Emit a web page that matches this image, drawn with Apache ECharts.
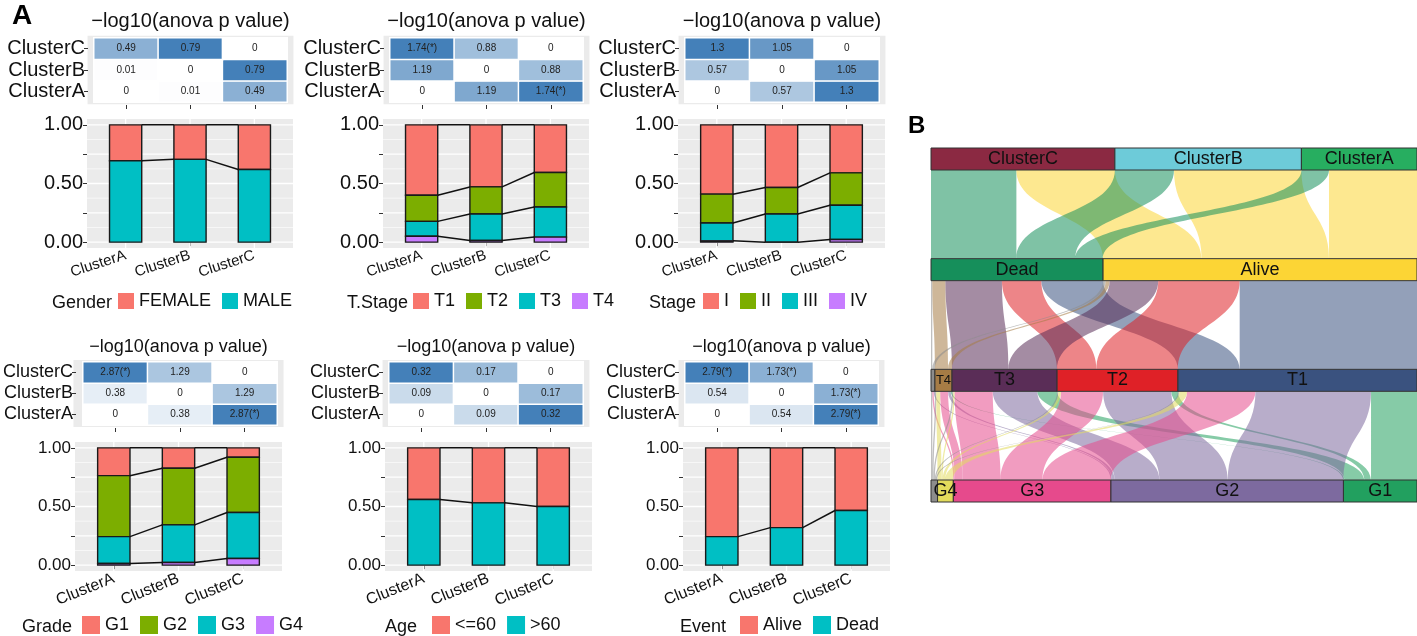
<!DOCTYPE html>
<html><head><meta charset="utf-8">
<script src="https://cdn.jsdelivr.net/npm/echarts@6/dist/echarts.min.js"></script>
<style>html,body{margin:0;padding:0;background:#fff}#c{width:1417px;height:636px}</style>
</head><body><div id="c"></div>
<script>
const FONT = '"Liberation Sans", Arial, Helvetica, sans-serif';
const clusters = ['ClusterA', 'ClusterB', 'ClusterC'];
const heatTitle = '\u2212log10(anova p value)';

// -log10(anova p) labels, rows = ClusterA, ClusterB, ClusterC ; cols = ClusterA, ClusterB, ClusterC
const genderP = [['0', '0.01', '0.49'], ['0.01', '0', '0.79'], ['0.49', '0.79', '0']];
const tstageP = [['0', '1.19', '1.74(*)'], ['1.19', '0', '0.88'], ['1.74(*)', '0.88', '0']];
const stageP  = [['0', '0.57', '1.3'], ['0.57', '0', '1.05'], ['1.3', '1.05', '0']];
const gradeP  = [['0', '0.38', '2.87(*)'], ['0.38', '0', '1.29'], ['2.87(*)', '1.29', '0']];
const ageP    = [['0', '0.09', '0.32'], ['0.09', '0', '0.17'], ['0.32', '0.17', '0']];
const eventP  = [['0', '0.54', '2.79(*)'], ['0.54', '0', '1.73(*)'], ['2.79(*)', '1.73(*)', '0']];

// proportions per cluster (A, B, C); first category is drawn on top
const genderCats = ['FEMALE', 'MALE'];
const genderFemale = [0.306, 0.294, 0.380];
const genderMale   = [0.694, 0.706, 0.620];

const tstageCats = ['T1', 'T2', 'T3', 'T4'];
const tstageT1 = [0.600, 0.529, 0.406];
const tstageT2 = [0.223, 0.231, 0.294];
const tstageT3 = [0.127, 0.226, 0.257];
const tstageT4 = [0.050, 0.014, 0.043];

const stageCats = ['I', 'II', 'III', 'IV'];
const stageI   = [0.591, 0.534, 0.409];
const stageII  = [0.246, 0.226, 0.277];
const stageIII = [0.152, 0.240, 0.291];
const stageIV  = [0.011, 0.000, 0.023];

const gradeCats = ['G1', 'G2', 'G3', 'G4'];
const gradeG1 = [0.237, 0.174, 0.080];
const gradeG2 = [0.520, 0.483, 0.471];
const gradeG3 = [0.229, 0.320, 0.392];
const gradeG4 = [0.014, 0.023, 0.057];

const ageCats = ['<=60', '>60'];
const ageLe60 = [0.440, 0.469, 0.500];
const ageGt60 = [0.560, 0.531, 0.500];

const eventCats = ['Alive', 'Dead'];
const eventAlive = [0.757, 0.680, 0.534];
const eventDead  = [0.243, 0.320, 0.466];

const hue2 = ['#F8766D', '#00BFC4'];
const hue4 = ['#F8766D', '#7CAE00', '#00BFC4', '#C77CFF'];

// axis ticks
const yTickVals = [0, 0.25, 0.5, 0.75, 1];
const yLabelVals = [0, 0.5, 1];
const yMinorVals = [0.125, 0.375, 0.625, 0.875];
const xPos = [1, 2, 3];

// sankey
const sankeyNodes = ['ClusterC', 'ClusterB', 'ClusterA', 'Dead', 'Alive', 'TX', 'T4', 'T3', 'T2', 'T1', 'NA', 'G4', 'G3', 'G2', 'G1'];
const sankeyColors = ['#8B2942', '#6DCBD9', '#27AE60', '#168F5B', '#FCD535', '#8C8C8C', '#A67C45', '#5A2D57', '#DF2127', '#3A527F', '#8C8C8C', '#E2DB5C', '#E64A8C', '#7D6A9F', '#22A05F'];
const clusterEvent = [['ClusterC', 'Dead', 65], ['ClusterC', 'Alive', 75], ['ClusterB', 'Dead', 45], ['ClusterB', 'Alive', 97], ['ClusterA', 'Dead', 21], ['ClusterA', 'Alive', 67]];
const eventT = [['Dead', 'TX', 1], ['Dead', 'T4', 10], ['Dead', 'T3', 43], ['Dead', 'T2', 30], ['Dead', 'T1', 47],
                ['Alive', 'TX', 2], ['Alive', 'T4', 3], ['Alive', 'T3', 37], ['Alive', 'T2', 62], ['Alive', 'T1', 135]];
const tGrade = [['TX', 'NA', 1], ['TX', 'G3', 1], ['TX', 'G2', 1],
                ['T4', 'NA', 1], ['T4', 'G4', 3], ['T4', 'G3', 6], ['T4', 'G2', 2], ['T4', 'G1', 1],
                ['T3', 'NA', 1], ['T3', 'G4', 1], ['T3', 'G3', 29], ['T3', 'G2', 34], ['T3', 'G1', 15],
                ['T2', 'NA', 1], ['T2', 'G4', 2], ['T2', 'G3', 32], ['T2', 'G2', 52], ['T2', 'G1', 5],
                ['T1', 'NA', 1], ['T1', 'G4', 6], ['T1', 'G3', 52], ['T1', 'G2', 88], ['T1', 'G1', 35]];

// layout
const rows = [
  {titleY: 21, titleSize: 20, heatLab: 20, yLab: 20, xLab: 15, xRot: 18, legY: 303, legFont: 18, key: 16},
  {titleY: 347, titleSize: 18, heatLab: 18, yLab: 17, xLab: 16, xRot: 22, legY: 627, legFont: 18, key: 18}
];
const panels = [
  {lt: 'Gender', cats: genderCats, vals: [genderFemale, genderMale], colors: hue2, heat: genderP, row: 0, hg: [94, 38, 193, 64], bg: [87, 119, 206, 129], ltx: 52, lx: 118},
  {lt: 'T.Stage', cats: tstageCats, vals: [tstageT1, tstageT2, tstageT3, tstageT4], colors: hue4, heat: tstageP, row: 0, hg: [390, 38, 193, 64], bg: [383, 119, 206, 129], ltx: 347, lx: 413},
  {lt: 'Stage', cats: stageCats, vals: [stageI, stageII, stageIII, stageIV], colors: hue4, heat: stageP, row: 0, hg: [685, 38, 194, 64], bg: [678, 119, 207, 129], ltx: 649, lx: 703},
  {lt: 'Grade', cats: gradeCats, vals: [gradeG1, gradeG2, gradeG3, gradeG4], colors: hue4, heat: gradeP, row: 1, hg: [80, 362, 197, 63], bg: [75, 442, 207, 129], ltx: 22, lx: 82},
  {lt: 'Age', cats: ageCats, vals: [ageLe60, ageGt60], colors: hue2, heat: ageP, row: 1, hg: [389, 362, 194, 63], bg: [385, 442, 207, 129], ltx: 385, lx: 432},
  {lt: 'Event', cats: eventCats, vals: [eventAlive, eventDead], colors: hue2, heat: eventP, row: 1, hg: [685, 362, 193, 63], bg: [683, 442, 207, 129], ltx: 680, lx: 740}
];

const grid = [], xAxis = [], yAxis = [], series = [], visualMap = [], legend = [], graphic = [];

function barRender(params, api) {
  const x = api.value(0), lo = api.value(1), hi = api.value(2);
  const p0 = api.coord([x - 0.25, hi]);
  const p1 = api.coord([x + 0.25, lo]);
  return {type: 'rect', shape: {x: p0[0], y: p0[1], width: p1[0] - p0[0], height: p1[1] - p0[1]},
          style: {fill: api.visual('color'), stroke: '#1a1a1a', lineWidth: 1.4}};
}
function flowRender(params, api) {
  const a = api.coord([api.value(0) + 0.25, api.value(1)]);
  const b = api.coord([api.value(2) - 0.25, api.value(3)]);
  return {type: 'line', shape: {x1: a[0], y1: a[1], x2: b[0], y2: b[1]}, style: {stroke: '#111', lineWidth: 1.5}};
}
function gridRender(params, api) {
  const cs = params.coordSys;
  const k = api.value(0), v = api.value(1);
  if (k < 2) {
    const y = api.coord([1, v])[1];
    return {type: 'line', shape: {x1: cs.x, y1: y, x2: cs.x + cs.width, y2: y}, style: {stroke: '#ffffff', lineWidth: k === 0 ? 1.3 : 0.6}};
  }
  const x = api.coord([v, 0])[0];
  return {type: 'line', shape: {x1: x, y1: cs.y, x2: x, y2: cs.y + cs.height}, style: {stroke: '#ffffff', lineWidth: 1.3}};
}

panels.forEach((p, i) => {
  const R = rows[p.row];
  const hg = p.hg, bg = p.bg;
  const hgi = 2 * i, bgi = 2 * i + 1;
  const colW = hg[2] / 3, rowH = hg[3] / 3;
  graphic.push({type: 'rect', z: 0, silent: true,
    shape: {x: hg[0] - 0.1 * colW, y: hg[1] - 0.1 * rowH, width: hg[2] + 0.2 * colW, height: hg[3] + 0.2 * rowH},
    style: {fill: '#EBEBEB'}});
  graphic.push({type: 'text', z: 10, x: hg[0] + hg[2] / 2, y: R.titleY,
    style: {text: heatTitle, fontSize: R.titleSize, fontFamily: FONT, fill: '#111', align: 'center', verticalAlign: 'middle'}});
  graphic.push({type: 'text', z: 10, x: p.ltx, y: R.legY,
    style: {text: p.lt, fontSize: R.legFont, fontFamily: FONT, fill: '#111', align: 'left', verticalAlign: 'middle'}});

  grid.push({left: hg[0], top: hg[1], width: hg[2], height: hg[3]});
  xAxis.push({type: 'category', gridIndex: hgi, data: clusters, offset: Math.round(0.1 * rowH) + 1,
    axisLine: {show: false}, axisTick: {show: true, alignWithLabel: true, interval: 0, length: 4, lineStyle: {color: '#333'}},
    axisLabel: {show: false}, splitLine: {show: false}});
  yAxis.push({type: 'category', gridIndex: hgi, data: clusters, offset: Math.round(0.1 * colW),
    axisLine: {show: false}, axisTick: {show: true, alignWithLabel: true, interval: 0, length: 4, lineStyle: {color: '#333'}},
    axisLabel: {interval: 0, fontSize: R.heatLab, color: '#111', margin: 3, fontFamily: FONT, hideOverlap: false}, splitLine: {show: false}});
  const hd = [];
  let mx = 0;
  p.heat.forEach((row, yi) => row.forEach((lab, xi) => {
    const v = parseFloat(lab);
    mx = Math.max(mx, v);
    hd.push([xi, yi, v, lab]);
  }));
  series.push({type: 'heatmap', name: 'heat' + i, xAxisIndex: hgi, yAxisIndex: hgi, data: hd,
    itemStyle: {borderColor: '#ffffff', borderWidth: 1.5},
    label: {show: true, fontSize: 10, color: '#222', fontFamily: FONT, formatter: q => q.data[3]},
    emphasis: {disabled: true}});
  visualMap.push({show: false, seriesIndex: series.length - 1, dimension: 2, min: 0, max: mx,
    inRange: {color: ['#ffffff', '#4480b9']}});

  grid.push({left: bg[0], top: bg[1], width: bg[2], height: bg[3], show: true, backgroundColor: '#EBEBEB', borderWidth: 0});
  xAxis.push({type: 'value', gridIndex: bgi, min: 0.4, max: 3.6, axisLine: {show: false}, splitLine: {show: false},
    axisTick: {show: true, customValues: xPos, length: 4, lineStyle: {color: '#333'}},
    axisLabel: {customValues: xPos, formatter: v => clusters[Math.round(v) - 1], rotate: R.xRot,
      fontSize: R.xLab, color: '#111', margin: 7, fontFamily: FONT}});
  yAxis.push({type: 'value', gridIndex: bgi, min: -0.05, max: 1.05, axisLine: {show: false}, splitLine: {show: false},
    axisTick: {show: true, customValues: yTickVals, length: 4, lineStyle: {color: '#333'}},
    axisLabel: {customValues: yLabelVals, formatter: v => v.toFixed(2), fontSize: R.yLab, color: '#111', margin: 4, fontFamily: FONT}});

  const gl = [];
  yTickVals.forEach(v => gl.push([0, v]));
  yMinorVals.forEach(v => gl.push([1, v]));
  xPos.forEach(v => gl.push([2, v]));
  series.push({type: 'custom', name: 'grid' + i, xAxisIndex: bgi, yAxisIndex: bgi, silent: true, z: 1,
    data: gl, renderItem: gridRender});

  const n = p.cats.length;
  const bounds = xPos.map((x, ci) => {
    let acc = 0;
    const arr = new Array(n);
    for (let k = n - 1; k >= 0; k--) {
      const lo = acc;
      acc += p.vals[k][ci];
      arr[k] = [lo, acc];
    }
    return arr;
  });
  p.cats.forEach((c, k) => {
    series.push({type: 'custom', name: c, xAxisIndex: bgi, yAxisIndex: bgi, z: 3, silent: true,
      itemStyle: {color: p.colors[k]},
      data: xPos.map((x, ci) => [x, bounds[ci][k][0], bounds[ci][k][1]]),
      encode: {x: 0, y: [1, 2]}, renderItem: barRender});
  });
  const ld = [];
  for (let k = 0; k < n; k++) {
    for (let ci = 0; ci < xPos.length - 1; ci++) {
      ld.push([xPos[ci], bounds[ci][k][1], xPos[ci + 1], bounds[ci + 1][k][1]]);
    }
  }
  series.push({type: 'custom', name: 'flow' + i, xAxisIndex: bgi, yAxisIndex: bgi, z: 4, silent: true,
    data: ld, encode: {x: [0, 2], y: [1, 3]}, renderItem: flowRender});

  legend.push({data: p.cats, left: p.lx, top: R.legY - 11, orient: 'horizontal', padding: 0,
    itemWidth: R.key, itemHeight: R.key, itemGap: 11, icon: 'rect', selectedMode: false,
    textStyle: {fontSize: R.legFont, color: '#111', fontFamily: FONT}});
});

const noLabel = {TX: true, NA: true};
series.push({
  type: 'sankey', name: 'alluvial', orient: 'vertical',
  left: 931, top: 148, right: 0, bottom: 134,
  nodeWidth: 22, nodeGap: 0, layoutIterations: 0, draggable: false,
  data: sankeyNodes.map((nm, k) => ({
    name: nm, itemStyle: {color: sankeyColors[k]},
    label: noLabel[nm] ? {show: false} : (nm === 'T4' ? {fontSize: 13} : {})
  })),
  links: clusterEvent.concat(eventT, tGrade).map(l => ({source: l[0], target: l[1], value: l[2]})),
  lineStyle: {color: 'target', opacity: 0.55, curveness: 0.5},
  itemStyle: {borderColor: '#333', borderWidth: 1},
  label: {show: true, position: 'inside', fontSize: 18, color: '#111', fontFamily: FONT},
  emphasis: {disabled: true}
});

graphic.push({type: 'text', z: 10, x: 12, y: 16, style: {text: 'A', fontSize: 28, fontWeight: 'bold', fontFamily: FONT, fill: '#000', align: 'left', verticalAlign: 'middle'}});
graphic.push({type: 'text', z: 10, x: 908, y: 126, style: {text: 'B', fontSize: 24, fontWeight: 'bold', fontFamily: FONT, fill: '#000', align: 'left', verticalAlign: 'middle'}});

const chart = echarts.init(document.getElementById('c'));
chart.setOption({
  animation: false,
  backgroundColor: '#ffffff',
  textStyle: {fontFamily: FONT},
  grid, xAxis, yAxis, visualMap, legend, graphic, series
});
</script></body></html>
